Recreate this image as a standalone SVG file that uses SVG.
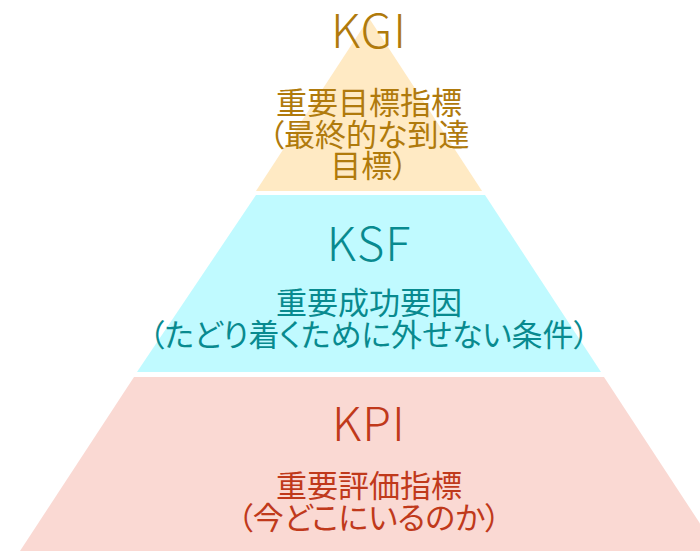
<svg xmlns="http://www.w3.org/2000/svg" width="700" height="551" viewBox="0 0 700 551">
<style>
text{font-family:"Noto Sans CJK JP","Noto Sans",sans-serif;text-anchor:middle;font-feature-settings:"palt"}
.t{font-size:47px;font-weight:300;letter-spacing:1px}
.s{font-size:31px}
.g{fill:#B07A0C}
.c{fill:#088A8F}
.r{fill:#C0391B}
</style>
<rect width="700" height="551" fill="#FFFFFF"/>
<g id="kgi">
<polygon points="369,18 482,191 256,191" fill="#FFEAC4"/>
<text class="t g" x="369" y="48">KGI</text>
<text class="s g" x="369" y="114">重要目標指標</text>
<text class="s g" x="369" y="146">（最終的な到達</text>
<text class="s g" x="369" y="177">目標）</text>
</g>
<g id="ksf">
<polygon points="256,195 485,195 601,372 137,372" fill="#C0FAFF"/>
<text class="t c" x="369" y="261">KSF</text>
<text class="s c" x="369" y="314">重要成功要因</text>
<text class="s c" x="369" y="346">（たどり着くために外せない条件）</text>
</g>
<g id="kpi">
<polygon points="134,377 604,377 718,551 20,551" fill="#FAD9D3"/>
<text class="t r" x="369" y="441">KPI</text>
<text class="s r" x="369" y="497">重要評価指標</text>
<text class="s r" x="369" y="529">（今どこにいるのか）</text>
</g>
</svg>
